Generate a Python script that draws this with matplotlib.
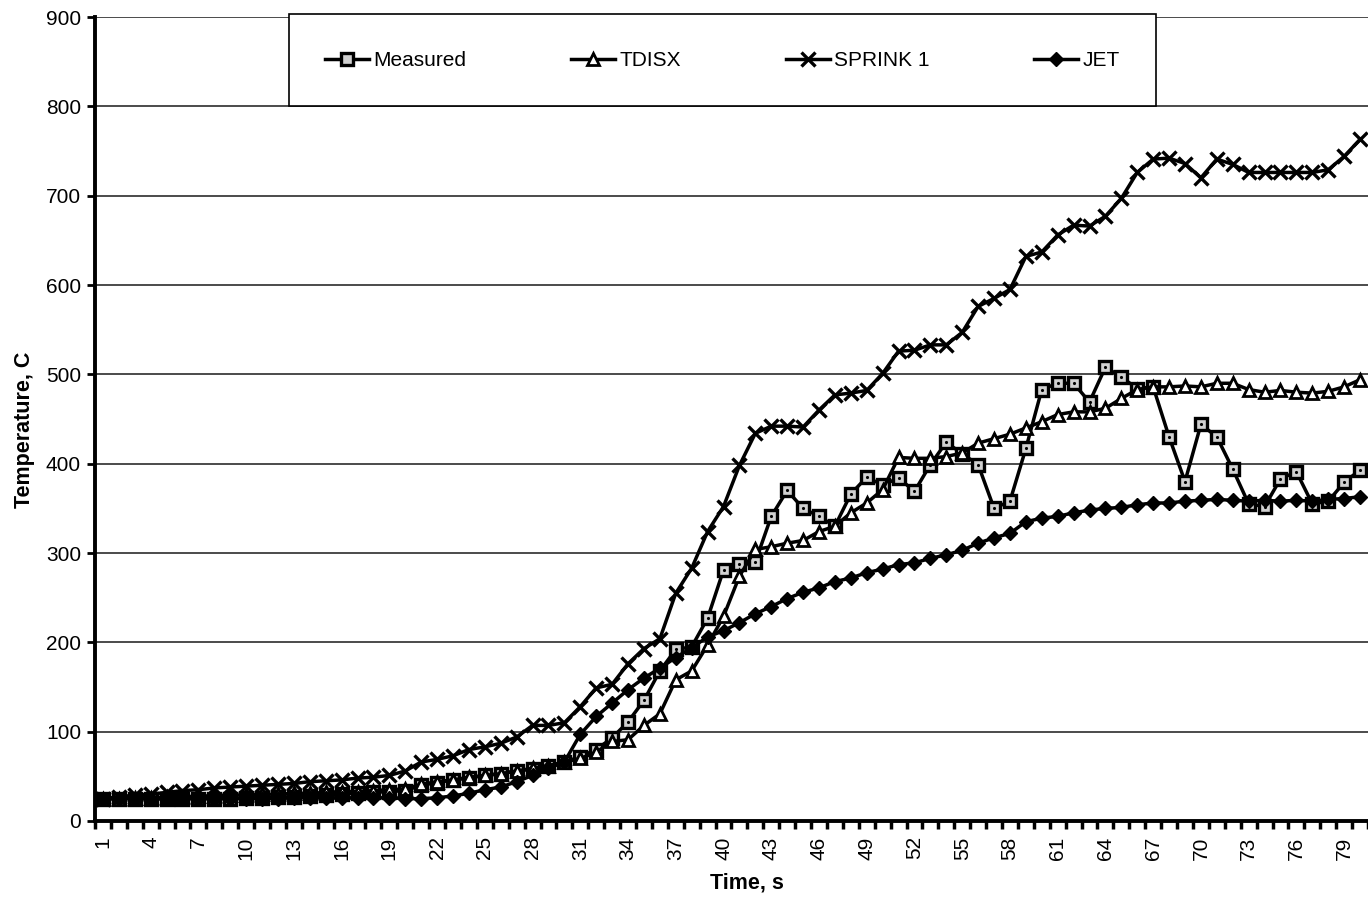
import matplotlib
matplotlib.use("Agg")
import matplotlib.pyplot as plt
import numpy as np

plt.rcParams["font.family"] = ["Liberation Sans", "DejaVu Sans"]

# time steps, s
time_s = np.arange(1, 81)

measured = [25, 25, 25, 25, 25, 25, 25, 25, 25, 26, 26, 27, 27, 28, 29, 30, 31, 32, 33, 34,
            40, 43, 46, 48, 51, 53, 56, 58, 62, 66, 72, 80, 93, 111, 135, 168, 192, 195, 227, 281,
            288, 290, 341, 370, 350, 341, 330, 366, 385, 376, 384, 369, 399, 424, 411, 399, 350, 358, 417, 483,
            490, 490, 469, 508, 497, 484, 486, 430, 380, 444, 430, 394, 355, 352, 383, 391, 355, 358, 379, 393]

tdisx = [25, 25, 26, 26, 27, 27, 28, 28, 29, 29, 30, 30, 31, 31, 32, 33, 33, 34, 35, 36,
         41, 44, 46, 49, 51, 53, 56, 59, 62, 66, 70, 77, 89, 91, 107, 120, 158, 168, 197, 229,
         274, 304, 307, 311, 314, 324, 330, 345, 356, 371, 407, 406, 406, 408, 412, 423, 428, 433, 440, 447,
         455, 458, 458, 462, 473, 483, 486, 486, 487, 486, 490, 490, 483, 480, 482, 480, 479, 481, 486, 494]

sprink1 = [25, 27, 29, 30, 32, 34, 35, 37, 38, 39, 40, 41, 42, 44, 45, 46, 48, 49, 51, 56,
           66, 69, 73, 80, 83, 87, 94, 107, 107, 110, 128, 149, 153, 176, 193, 204, 255, 283, 324, 352,
           398, 434, 442, 442, 441, 460, 477, 479, 482, 501, 526, 527, 533, 533, 547, 576, 585, 595, 632, 637,
           656, 667, 666, 677, 697, 726, 741, 742, 736, 720, 741, 735, 726, 726, 726, 726, 726, 729, 744, 763]

jet = [25, 25, 25, 25, 25, 25, 25, 25, 25, 25, 25, 25, 26, 26, 26, 26, 26, 26, 26, 25,
       25, 26, 28, 31, 35, 38, 44, 51, 59, 66, 97, 117, 132, 147, 160, 171, 183, 194, 206, 213,
       222, 232, 240, 249, 256, 261, 268, 272, 278, 282, 287, 289, 294, 298, 303, 311, 317, 322, 335, 339,
       341, 345, 348, 350, 351, 354, 356, 356, 358, 359, 360, 359, 358, 359, 358, 359, 358, 360, 361, 363]

y_ticks = np.arange(0, 1000, 100)
x_label_ticks = np.arange(1, 81, 3)

fig = plt.figure(figsize=(13.68, 9.01), dpi=100)
ax = fig.add_axes([0.0694, 0.0888, 0.9306, 0.8923])

lw = 2.5
ax.plot(time_s, measured, color="black", lw=lw, marker="s", ms=9, mfc="#d0d0d0",
        mec="black", mew=2.4, label="Measured", zorder=3)
ax.plot(time_s, measured, ls="none", marker=".", ms=2.5, color="black", zorder=3.1)
ax.plot(time_s, tdisx, color="black", lw=lw, marker="^", ms=8.5, mfc="white",
        mec="black", mew=2, label="TDISX", zorder=4)
ax.plot(time_s, sprink1, color="black", lw=lw, marker="x", ms=10.5, mew=2.4,
        label="SPRINK 1", zorder=5)
ax.plot(time_s, jet, color="black", lw=lw, marker="D", ms=7, mfc="black",
        mec="black", label="JET", zorder=6)

ax.set_xlim(0.5, 80.5)
ax.set_ylim(0, 900)
ax.set_yticks(y_ticks)
ax.set_xticks(x_label_ticks)
ax.set_xticklabels([str(t) for t in x_label_ticks], rotation=90)
ax.set_xticks(np.arange(0.5, 81, 1), minor=True)
ax.tick_params(axis="x", which="major", length=0, pad=11, labelsize=15)
ax.tick_params(axis="x", which="minor", length=6, width=2.5, direction="out")
ax.tick_params(axis="y", which="major", length=6, width=2, direction="out", labelsize=15, pad=4)

ax.grid(axis="y", color="#1a1a1a", lw=1.1)
ax.set_axisbelow(True)

for side in ["top", "right"]:
    ax.spines[side].set_visible(False)
ax.spines["left"].set_linewidth(2.8)
ax.spines["bottom"].set_linewidth(2.8)

ax.set_xlabel("Time, s", fontsize=15.5, fontweight="bold")
ax.set_ylabel("Temperature, C", fontsize=15.5, fontweight="bold")
ax.xaxis.set_label_coords(0.512, -0.064)
ax.yaxis.set_label_coords(-0.047, 0.486)

leg = ax.legend(loc="lower left", bbox_to_anchor=(0.1524, 0.889, 0.681, 0.11),
                mode="expand", ncol=4, frameon=True, fancybox=False, fontsize=15,
                handlelength=2.1, handletextpad=0.2, borderpad=1.75, borderaxespad=0,
                edgecolor="black", framealpha=1)
leg.get_frame().set_linewidth(1.2)
leg.set_zorder(10)

fig.savefig("out.png", dpi=100)
